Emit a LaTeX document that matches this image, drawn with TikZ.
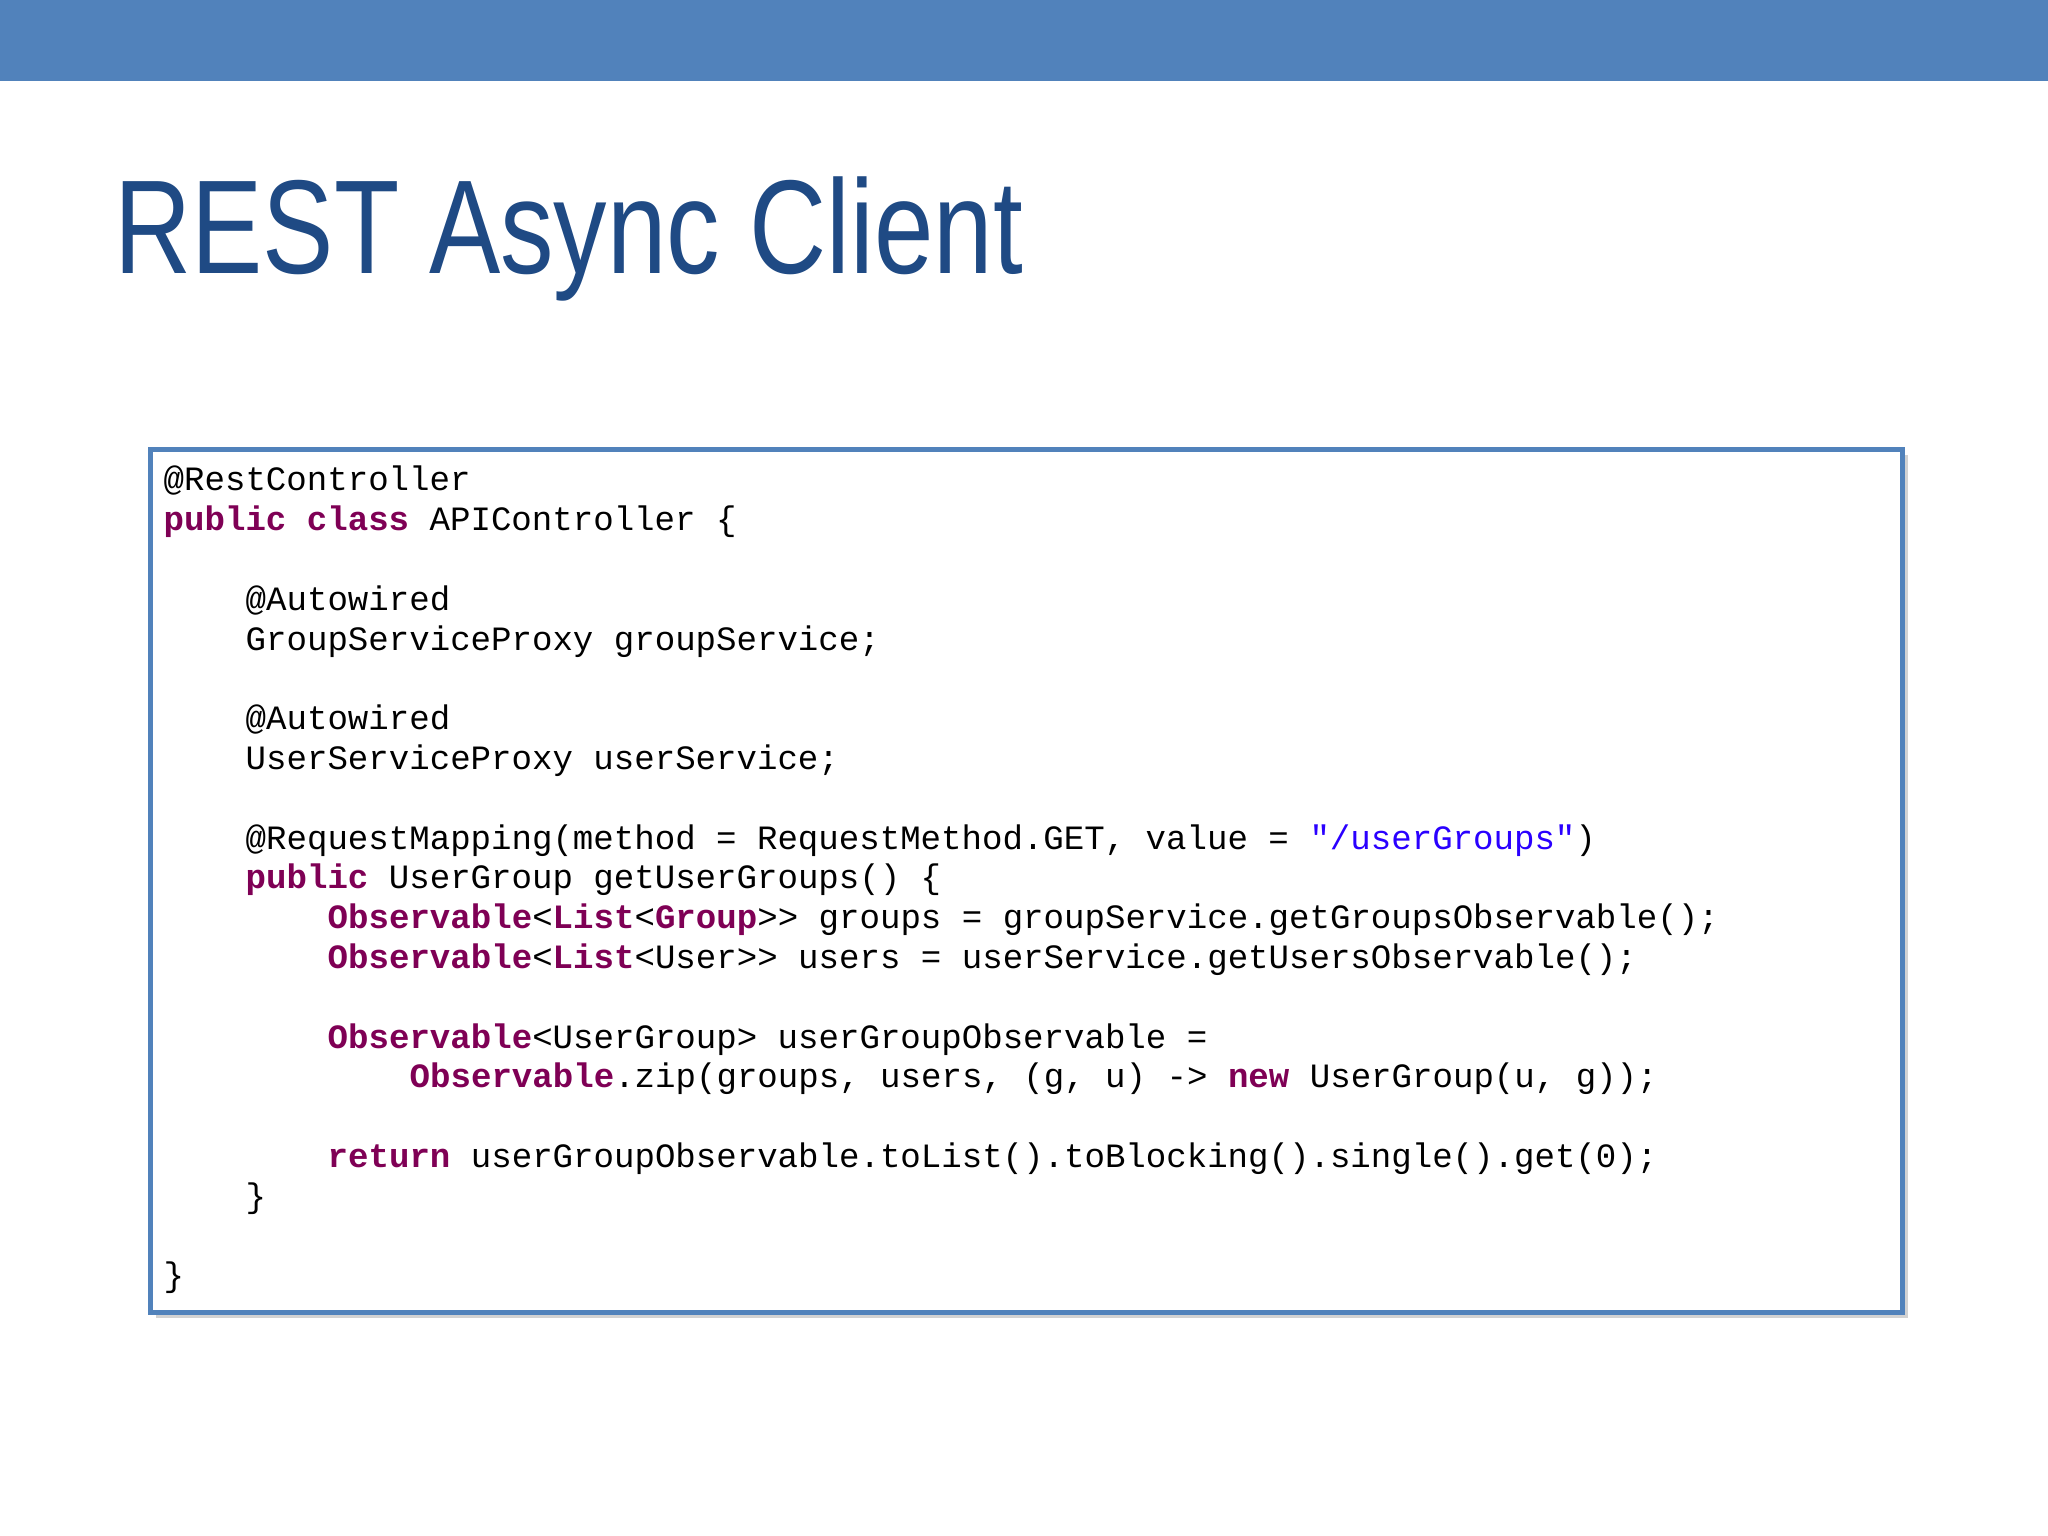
\documentclass[tikz,border=0pt]{standalone}
\usepackage{fontspec}
\setmainfont{Liberation Sans}
\setmonofont{Liberation Mono}
\usetikzlibrary{shadows}
\definecolor{barblue}{HTML}{5182BB}
\definecolor{titleblue}{HTML}{1F4A84}
\definecolor{kwc}{HTML}{7F0055}
\definecolor{strc}{HTML}{2A00FF}
\newcommand{\kw}[1]{\textbf{\color{kwc}#1}}
\tikzset{code/.style={anchor=base west,inner sep=0pt,font=\fontsize{9.7pt}{11pt}\ttfamily}}
\begin{document}
\begin{tikzpicture}
\useasboundingbox (0,0) rectangle (20.48,15.36);
\fill[white] (0,0) rectangle (20.48,15.36);
\fill[barblue] (0,14.55) rectangle (20.48,15.36);
\node[anchor=base west,inner sep=0pt,text=titleblue,font=\fontsize{38pt}{44pt}\selectfont,xscale=0.8,transform shape] (title) at (1.14,12.62) {REST Async Client};
\node[draw=barblue,line width=1.3pt,fill=white,drop shadow={opacity=0.35,shadow xshift=0.06,shadow yshift=-0.06},minimum width=17.52cm,minimum height=8.63cm,anchor=north west,inner sep=0pt] (box) at (1.48,10.89) {};
\def\cw{0.205}
\def\yy#1{10.45-#1*0.398}
\node[code] (l0) at (1.63,{\yy{0}}) {@RestController};
\node[code] (l1) at (1.63,{\yy{1}}) {\kw{public} \kw{class} APIController \{};
\node[code] (l3) at ({1.63+4*\cw},{\yy{3}}) {@Autowired};
\node[code] (l4) at ({1.63+4*\cw},{\yy{4}}) {GroupServiceProxy groupService;};
\node[code] (l6) at ({1.63+4*\cw},{\yy{6}}) {@Autowired};
\node[code] (l7) at ({1.63+4*\cw},{\yy{7}}) {UserServiceProxy userService;};
\node[code] (l9) at ({1.63+4*\cw},{\yy{9}}) {@RequestMapping(method = RequestMethod.GET, value = {\color{strc}"/userGroups"})};
\node[code] (l10) at ({1.63+4*\cw},{\yy{10}}) {\kw{public} UserGroup getUserGroups() \{};
\node[code] (l11) at ({1.63+8*\cw},{\yy{11}}) {\kw{Observable}<\kw{List}<\kw{Group}>{}> groups = groupService.getGroupsObservable();};
\node[code] (l12) at ({1.63+8*\cw},{\yy{12}}) {\kw{Observable}<\kw{List}<User>{}> users = userService.getUsersObservable();};
\node[code] (l14) at ({1.63+8*\cw},{\yy{14}}) {\kw{Observable}<UserGroup> userGroupObservable =};
\node[code] (l15) at ({1.63+12*\cw},{\yy{15}}) {\kw{Observable}.zip(groups, users, (g, u) -> \kw{new} UserGroup(u, g));};
\node[code] (l17) at ({1.63+8*\cw},{\yy{17}}) {\kw{return} userGroupObservable.toList().toBlocking().single().get(0);};
\node[code] (l18) at ({1.63+4*\cw},{\yy{18}}) {\}};
\node[code] (l20) at (1.63,{\yy{20}}) {\}};
\end{tikzpicture}
\end{document}
